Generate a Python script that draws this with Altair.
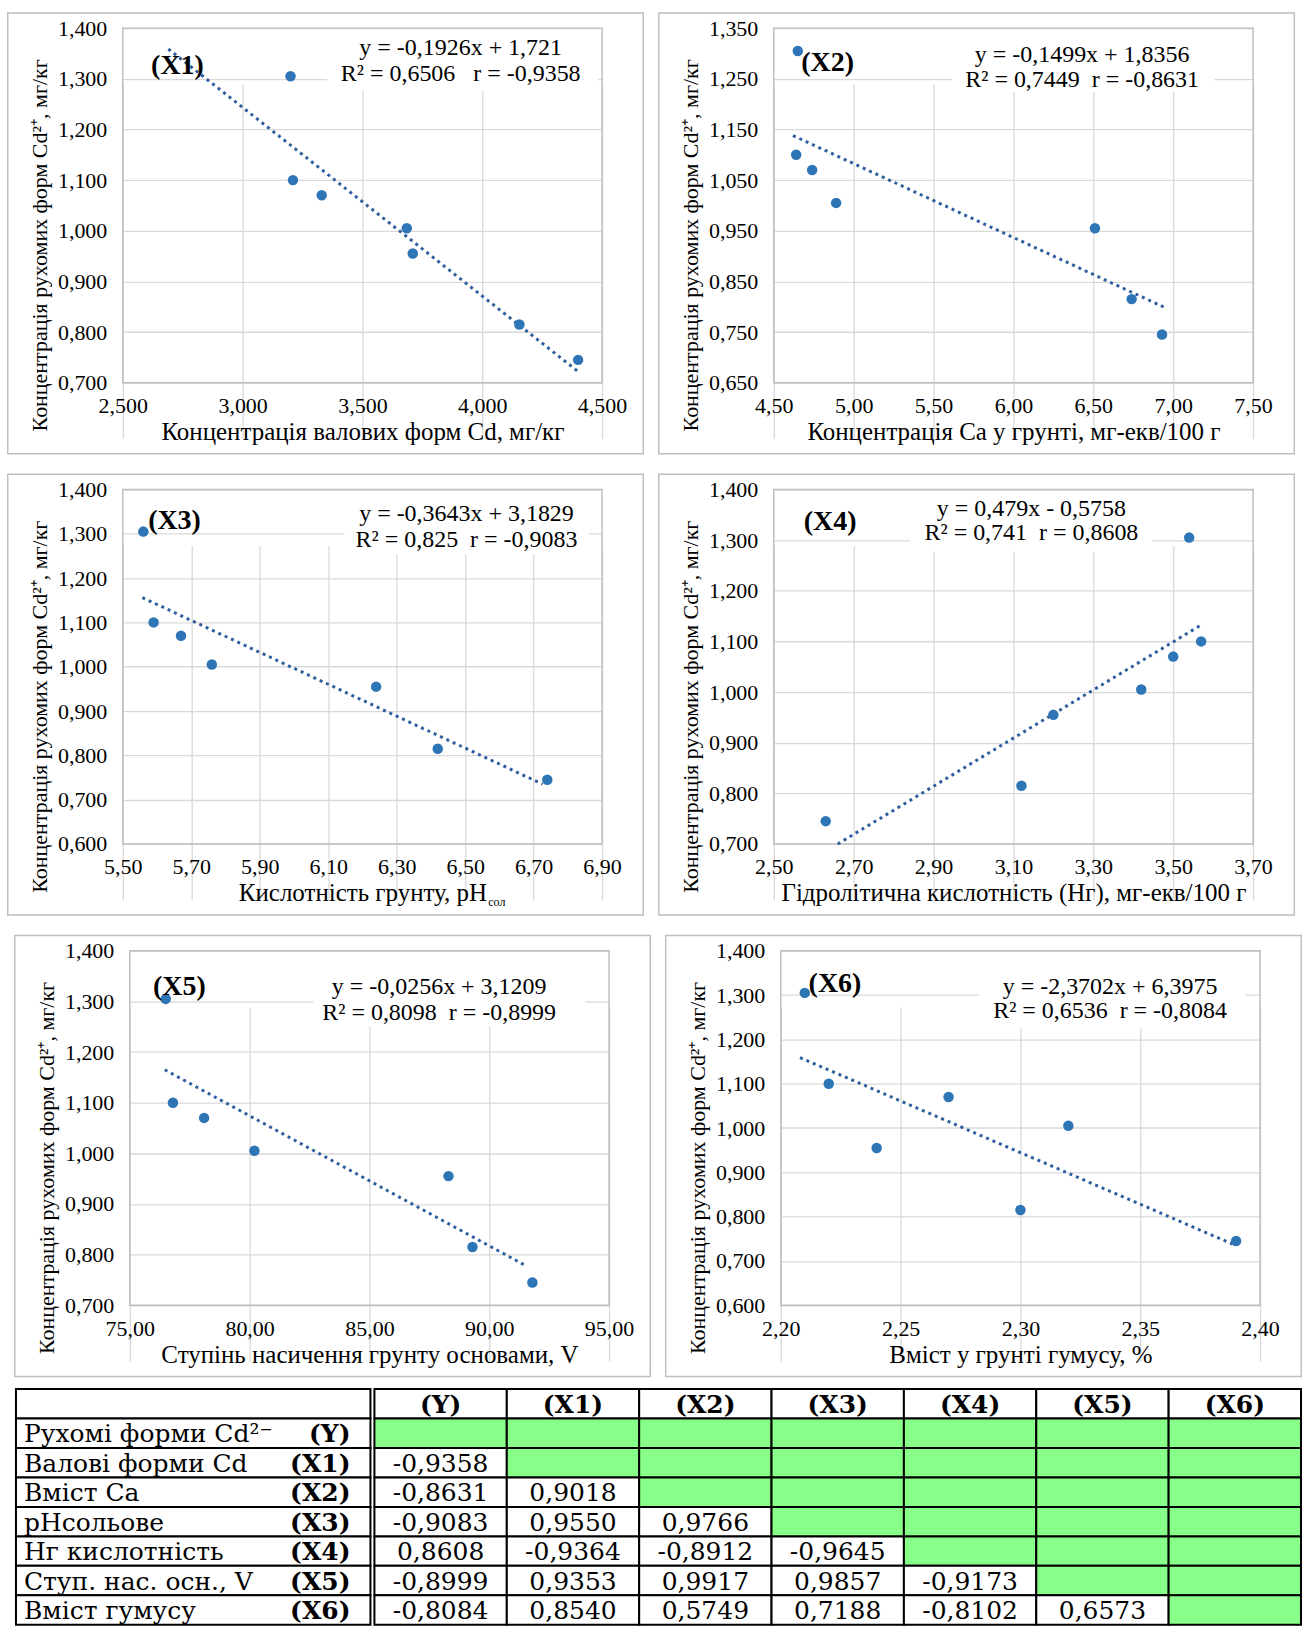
import altair as alt
import pandas as pd

# ---------------- data ----------------
Y_VALUES = [1.305, 1.100, 1.070, 1.005, 0.955, 0.815, 0.745]
X1_VALUES = [3.200, 3.210, 3.330, 3.685, 3.710, 4.155, 4.400]
X2_VALUES = [4.65, 4.64, 4.74, 4.89, 6.51, 6.74, 6.93]
X3_VALUES = [5.56, 5.59, 5.67, 5.76, 6.24, 6.42, 6.74]
X4_VALUES = [3.54, 3.57, 3.50, 3.42, 3.20, 3.12, 2.63]
X5_VALUES = [76.5, 76.8, 78.1, 80.2, 88.3, 89.3, 91.8]
X6_VALUES = [2.21, 2.22, 2.27, 2.32, 2.24, 2.30, 2.39]

# trend lines as drawn (start, end)
TREND_X = [[2.69, 4.40], [4.62, 6.95], [5.557, 6.726], [2.66, 3.567], [76.46, 91.57], [2.208, 2.389]]
TREND_Y = [[1.359, 0.722], [1.138, 0.798], [1.156, 0.735], [0.700, 1.131], [1.165, 0.777], [1.159, 0.737]]

NB = "\u00a0"
EQUATIONS = [
    "y = -0,1926x + 1,721",
    "y = -0,1499x + 1,8356",
    "y = -0,3643x + 3,1829",
    "y = 0,479x - 0,5758",
    "y = -0,0256x + 3,1209",
    "y = -2,3702x + 6,3975",
]
R_LINES = [
    "R² = 0,6506" + NB * 3 + "r = -0,9358",
    "R² = 0,7449" + NB * 2 + "r = -0,8631",
    "R² = 0,825" + NB * 2 + "r = -0,9083",
    "R² = 0,741" + NB * 2 + "r = 0,8608",
    "R² = 0,8098" + NB * 2 + "r = -0,8999",
    "R² = 0,6536" + NB * 2 + "r = -0,8084",
]
TAGS = ["(X1)", "(X2)", "(X3)", "(X4)", "(X5)", "(X6)"]
X_TITLES = [
    "Концентрація валових форм Cd, мг/кг",
    "Концентрація Ca у грунті, мг-екв/100 г",
    "Кислотність грунту, pH",
    "Гідролітична кислотність (Hг), мг-екв/100 г",
    "Ступінь насичення грунту основами, V",
    "Вміст у грунті гумусу, %",
]
Y_TITLE = "Концентрація рухомих форм Cd²⁺, мг/кг"
X_TICKS = [
    [2.5, 3.0, 3.5, 4.0, 4.5],
    [4.5, 5.0, 5.5, 6.0, 6.5, 7.0, 7.5],
    [5.5, 5.7, 5.9, 6.1, 6.3, 6.5, 6.7, 6.9],
    [2.5, 2.7, 2.9, 3.1, 3.3, 3.5, 3.7],
    [75, 80, 85, 90, 95],
    [2.20, 2.25, 2.30, 2.35, 2.40],
]
X_DECIMALS = [3, 2, 2, 2, 2, 2]
Y_TICKS = [
    [0.7, 0.8, 0.9, 1.0, 1.1, 1.2, 1.3, 1.4],
    [0.65, 0.75, 0.85, 0.95, 1.05, 1.15, 1.25, 1.35],
    [0.6, 0.7, 0.8, 0.9, 1.0, 1.1, 1.2, 1.3, 1.4],
    [0.7, 0.8, 0.9, 1.0, 1.1, 1.2, 1.3, 1.4],
    [0.7, 0.8, 0.9, 1.0, 1.1, 1.2, 1.3, 1.4],
    [0.6, 0.7, 0.8, 0.9, 1.0, 1.1, 1.2, 1.3, 1.4],
]

# annotation placement (data coordinates)
TAG_POS = [(2.728, 1.325), (4.837, 1.282), (5.651, 1.329), (2.641, 1.336), (77.07, 1.329), (2.2226, 1.326)]
EQ_POS = [(3.91, 1.361, 1.31), (6.43, 1.297, 1.247), (6.504, 1.344, 1.287),
          (3.145, 1.362, 1.315), (87.91, 1.329, 1.278), (2.3374, 1.319, 1.263)]
BOX_POS = [(3.353, 4.483, 1.277, 1.386), (5.615, 7.26, 1.224, 1.329), (6.147, 6.861, 1.254, 1.377),
           (2.842, 3.447, 1.278, 1.387), (82.66, 94.02, 1.250, 1.352), (2.2826, 2.3939, 1.225, 1.353)]

# correlation table
ROW_NAMES = ["Рухомі форми Cd²⁻", "Валові форми Cd", "Вміст Ca", "pHсольове",
             "Hг кислотність", "Ступ. нас. осн., V", "Вміст гумусу"]
CODES = ["(Y)", "(X1)", "(X2)", "(X3)", "(X4)", "(X5)", "(X6)"]
CORR = [
    [],
    [-0.9358],
    [-0.8631, 0.9018],
    [-0.9083, 0.9550, 0.9766],
    [0.8608, -0.9364, -0.8912, -0.9645],
    [-0.8999, 0.9353, 0.9917, 0.9857, -0.9173],
    [-0.8084, 0.8540, 0.5749, 0.7188, -0.8102, 0.6573],
]

# ---------------- styling ----------------
BOX_W, BOX_H = 638, 443          # panel frame
PW, PH = 480, 355                # plot area
PL, PT = 116, 16                 # plot offset inside the frame
FONT = "Liberation Serif"
TFONT = "DejaVu Serif"
BLUE = "#2E75B6"
TREND = "#2F5E9E"
GRID = "#D9D9D9"
FRAME = "#BFBFBF"
GREEN = "#88FF88"
FS = 22


def make_panel(i, xs, fx=0):
    left = fx + PL
    xscale = alt.Scale(domain=[X_TICKS[i][0], X_TICKS[i][-1]], nice=False, zero=False,
                       range=[left, left + PW])
    yscale = alt.Scale(domain=[Y_TICKS[i][0], Y_TICKS[i][-1]], nice=False, zero=False,
                       range=[PT + PH, PT])
    common = dict(grid=True, gridColor=GRID, gridWidth=1.3, domain=False, ticks=False,
                  labelFontSize=FS, labelFont=FONT, titleFont=FONT,
                  labelColor="black", titleColor="black", titleFontWeight="normal",
                  labelFlush=False, labelOverlap=False)
    xaxis = alt.Axis(values=X_TICKS[i], title=X_TITLES[i], titleFontSize=25,
                     labelExpr=f"replace(format(datum.value, '.{X_DECIMALS[i]}f'), '.', ',')",
                     labelPadding=13, titlePadding=3, offset=-(BOX_H - PT - PH), **common)
    yaxis = alt.Axis(values=Y_TICKS[i], title=Y_TITLE, titleFontSize=22, titleY=233,
                     labelExpr="replace(format(datum.value, '.3f'), '.', ',')",
                     labelPadding=16, titlePadding=6, offset=-left, **common)

    def ex(f="x"):
        return alt.X(f"{f}:Q", scale=xscale, axis=xaxis)

    def ey(f="y"):
        return alt.Y(f"{f}:Q", scale=yscale, axis=yaxis)

    pts = pd.DataFrame({"x": xs, "y": Y_VALUES})
    trend = pd.DataFrame({"x": TREND_X[i], "y": TREND_Y[i]})
    bx = BOX_POS[i]
    box = pd.DataFrame({"x": [bx[0]], "x2": [bx[1]], "y": [bx[2]], "y2": [bx[3]]})
    plot_border = pd.DataFrame({"x": [X_TICKS[i][0]], "x2": [X_TICKS[i][-1]],
                                "y": [Y_TICKS[i][0]], "y2": [Y_TICKS[i][-1]]})
    eq = pd.DataFrame({"x": [EQ_POS[i][0], EQ_POS[i][0]],
                       "y": [EQ_POS[i][1], EQ_POS[i][2]],
                       "t": [EQUATIONS[i], R_LINES[i]]})
    tag = pd.DataFrame({"x": [TAG_POS[i][0]], "y": [TAG_POS[i][1]], "t": [TAGS[i]]})
    one = pd.DataFrame({"k": [0]})

    layers = [
        alt.Chart(one).mark_rect(fillOpacity=0, stroke=FRAME, strokeWidth=1.5).encode(
            x=alt.value(fx + 0.75), x2=alt.value(fx + BOX_W - 0.75),
            y=alt.value(0.75), y2=alt.value(BOX_H - 0.75)),
        alt.Chart(box).mark_rect(color="white").encode(x=ex(), x2="x2", y=ey(), y2="y2"),
        alt.Chart(plot_border).mark_rect(fillOpacity=0, stroke=FRAME, strokeWidth=1.5).encode(
            x=ex(), x2="x2", y=ey(), y2="y2"),
        alt.Chart(trend).mark_line(color=TREND, strokeWidth=3, strokeDash=[3, 4]).encode(x=ex(), y=ey()),
        alt.Chart(pts).mark_circle(size=110, color=BLUE, opacity=1).encode(x=ex(), y=ey()),
        alt.Chart(eq).mark_text(font=FONT, fontSize=24, color="black", align="center",
                                baseline="middle").encode(x=ex(), y=ey(), text="t:N"),
        alt.Chart(tag).mark_text(font=FONT, fontSize=28, fontWeight="bold", color="black",
                                 align="center", baseline="middle").encode(x=ex(), y=ey(), text="t:N"),
    ]
    if i == 2:
        layers.append(alt.Chart(one).mark_text(font=FONT, fontSize=12, color="black", align="left",
                                               baseline="middle", text="сол").encode(
            x=alt.value(left + PW / 2 + 126), y=alt.value(PT + PH + 58)))
    return alt.layer(*layers).properties(
        width=fx + BOX_W, height=BOX_H, view=alt.ViewBackground(stroke="transparent"))


panels = [
    make_panel(0, X1_VALUES),
    make_panel(1, X2_VALUES),
    make_panel(2, X3_VALUES),
    make_panel(3, X4_VALUES),
    make_panel(4, X5_VALUES, fx=7),
    make_panel(5, X6_VALUES),
]

# ---------------- table ----------------
ROW_IDS = ["h"] + CODES
T_OFF, TW1, TW2, TH = 9, 355, 928, 236
TFS = 25

first = pd.DataFrame({
    "row": ROW_IDS,
    "col": ["name"] * 8,
    "name": [""] + ROW_NAMES,
    "code": [""] + CODES,
})
cells = []
for r, rid in enumerate(ROW_IDS):
    for j, c in enumerate(CODES):
        if r == 0:
            cells.append({"row": rid, "col": c, "t": c, "fill": "white", "bold": 1})
        else:
            k = r - 1
            if j < k:
                txt = f"{CORR[k][j]:.4f}".replace(".", ",")
                cells.append({"row": rid, "col": c, "t": txt, "fill": "white", "bold": 0})
            else:
                cells.append({"row": rid, "col": c, "t": "", "fill": GREEN, "bold": 0})
cells = pd.DataFrame(cells)

yenc = alt.Y("row:N", sort=ROW_IDS, axis=None, scale=alt.Scale(paddingInner=0, paddingOuter=0))
x1enc = alt.X("col:N", axis=None,
              scale=alt.Scale(paddingInner=0, paddingOuter=0, range=[T_OFF, T_OFF + TW1]))
x2enc = alt.X("col:N", sort=CODES, axis=None, scale=alt.Scale(paddingInner=0, paddingOuter=0))

table1 = alt.layer(
    alt.Chart(first).mark_rect(fill="white", stroke="black", strokeWidth=2).encode(x=x1enc, y=yenc),
    alt.Chart(first).mark_text(font=TFONT, fontSize=TFS, align="left", baseline="middle",
                               dx=-TW1 / 2 + 8, dy=1, color="black").encode(x=x1enc, y=yenc, text="name:N"),
    alt.Chart(first).mark_text(font=TFONT, fontSize=TFS, fontWeight="bold", align="right",
                               baseline="middle", dx=TW1 / 2 - 20, dy=1,
                               color="black").encode(x=x1enc, y=yenc, text="code:N"),
).properties(width=T_OFF + TW1 - 2, height=TH, view=alt.ViewBackground(stroke="transparent"))

table2 = alt.layer(
    alt.Chart(cells).mark_rect(stroke="black", strokeWidth=2).encode(
        x=x2enc, y=yenc, color=alt.Color("fill:N", scale=None)),
    alt.Chart(cells).transform_filter("datum.bold == 1").mark_text(
        font=TFONT, fontSize=TFS, fontWeight="bold", baseline="middle", dy=1, color="black").encode(
        x=x2enc, y=yenc, text="t:N"),
    alt.Chart(cells).transform_filter("datum.bold == 0").mark_text(
        font=TFONT, fontSize=TFS, baseline="middle", dy=1, color="black").encode(
        x=x2enc, y=yenc, text="t:N"),
).properties(width=TW2, height=TH, view=alt.ViewBackground(stroke="transparent"))

table = alt.hconcat(table1, table2, spacing=0)

rows = alt.vconcat(
    alt.hconcat(panels[0], panels[1], spacing=12),
    alt.hconcat(panels[2], panels[3], spacing=12),
    alt.hconcat(panels[4], panels[5], spacing=12),
    spacing=17,
)

chart = alt.vconcat(rows, table, spacing=9).properties(
    padding={"left": 6, "top": 10, "right": 0, "bottom": 0},
    background="white",
).configure(font=FONT).configure_view(stroke="transparent").configure_axis(
    labelFont=FONT, titleFont=FONT)

chart.save("out.html", embed_options={"renderer": "svg", "actions": False})
